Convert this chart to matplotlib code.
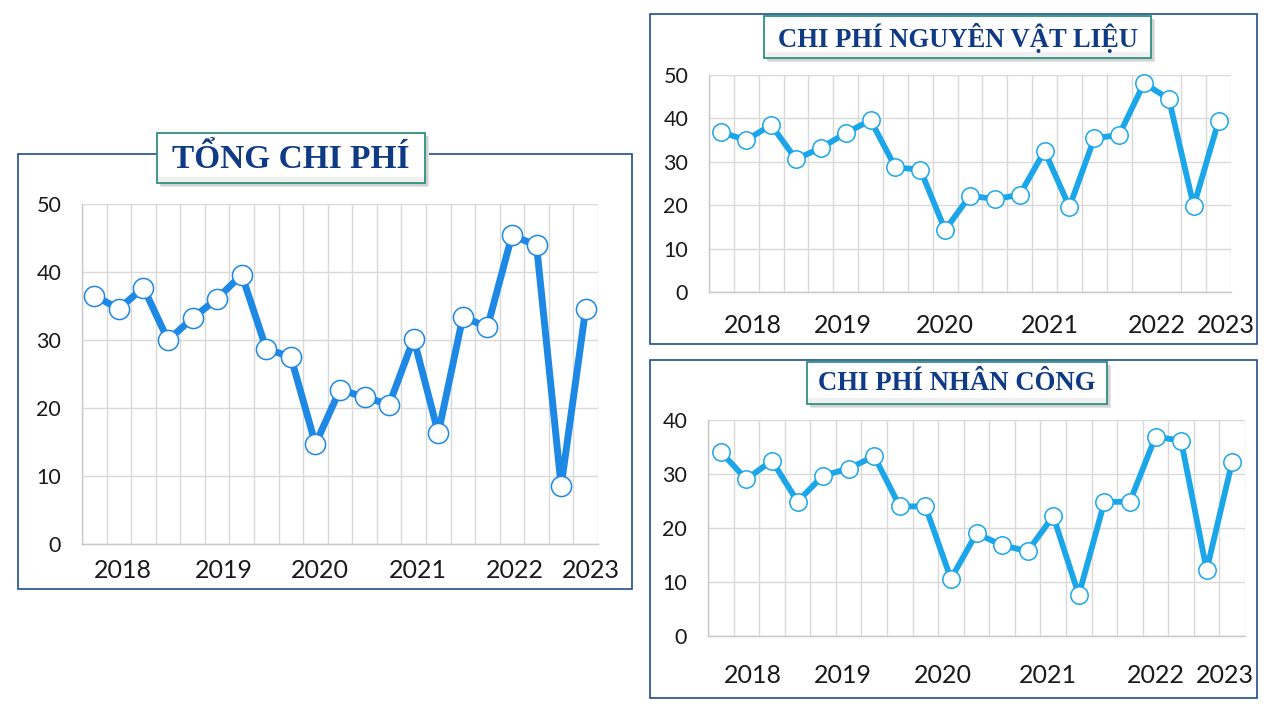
import matplotlib
matplotlib.use("Agg")
import matplotlib.pyplot as plt
from matplotlib.patches import Rectangle
import numpy as np

# ---------------- data ----------------
years = ["2018", "2019", "2020", "2021", "2022", "2023"]

tong_chi_phi = [36.5, 34.6, 37.7, 30.0, 33.2, 36.1, 39.6, 28.7, 27.5, 14.7,
                22.7, 21.6, 20.5, 30.2, 16.3, 33.4, 31.9, 45.4, 43.9, 8.5, 34.6]
nguyen_vat_lieu = [36.8, 35.0, 38.5, 30.6, 33.2, 36.6, 39.6, 28.7, 28.2, 14.3,
                   22.2, 21.4, 22.4, 32.5, 19.6, 35.4, 36.2, 48.1, 44.5, 19.8, 39.4]
nhan_cong = [34.1, 29.0, 32.5, 24.9, 29.7, 31.0, 33.3, 24.0, 24.0, 10.6,
             19.0, 16.8, 15.7, 22.2, 7.6, 24.8, 24.9, 36.9, 36.2, 12.2, 32.3]

titles = ["TỔNG CHI PHÍ", "CHI PHÍ NGUYÊN VẬT LIỆU", "CHI PHÍ NHÂN CÔNG"]

W, H = 1280, 720
fig = plt.figure(figsize=(12.8, 7.2), dpi=100)
fig.patch.set_facecolor("white")

FRAME = "#1F4E8C"
TITLE_C = "#0F3A85"
TEAL = "#2E8F80"
GRID = "#D9D9D9"
TICKFONT = ["Lato", "DejaVu Sans"]


def fx(x):
    return x / W


def fy(y):
    return 1 - y / H


def frame(x0, y0, x1, y1):
    fig.patches.append(Rectangle((fx(x0), fy(y1)), fx(x1) - fx(x0), fy(y0) - fy(y1),
                                 transform=fig.transFigure, fill=False,
                                 edgecolor=FRAME, linewidth=1.2, zorder=1))


def title_box(x0, y0, x1, y1, text, size):
    # soft shadow
    for off, c in [(4, "#E4E4E4"), (3, "#D2D2D2")]:
        fig.patches.append(Rectangle((fx(x0 + off), fy(y1 + off)), fx(x1) - fx(x0), fy(y0) - fy(y1),
                                     transform=fig.transFigure, facecolor=c,
                                     edgecolor="none", zorder=3))
    fig.patches.append(Rectangle((fx(x0), fy(y1)), fx(x1) - fx(x0), fy(y0) - fy(y1),
                                 transform=fig.transFigure, facecolor="white",
                                 edgecolor=TEAL, linewidth=1.3, zorder=4))
    # slight gradient at bottom of the box
    fig.patches.append(Rectangle((fx(x0 + 1), fy(y1 - 1)), fx(x1 - 1) - fx(x0 + 1), fy(y1 - 6) - fy(y1 - 1),
                                 transform=fig.transFigure, facecolor="#F0F0F0",
                                 edgecolor="none", zorder=4.5))
    fig.text(fx((x0 + x1) / 2), fy((y0 + y1) / 2 + 1), text, ha="center", va="center",
             fontsize=size, fontweight="bold", color=TITLE_C,
             family=["Liberation Serif", "DejaVu Serif"], zorder=5)


def chart(x0, y0, x1, y1, values, ymax, color, lw, ms, label_pos, label_pad):
    ax = fig.add_axes([fx(x0), fy(y1), fx(x1) - fx(x0), fy(y0) - fy(y1)])
    ax.set_zorder(2)
    n = len(values)
    x = np.arange(n)
    ax.plot(x, values, color=color, linewidth=lw, solid_capstyle="butt", zorder=3,
            marker="o", markersize=ms, markerfacecolor="white",
            markeredgecolor=color, markeredgewidth=1.1, clip_on=False)
    ax.set_xlim(-0.5, n - 0.5)
    ax.set_ylim(0, ymax)
    ax.set_yticks(np.arange(0, ymax + 1, 10))
    ax.set_xticks(np.arange(-0.5, n, 1.0), minor=True)
    ax.set_xticks(label_pos)
    ax.set_xticklabels(years, fontsize=18, family=TICKFONT, color="#1A1A1A")
    for lab in ax.get_yticklabels():
        lab.set_fontsize(15.5)
        lab.set_family(TICKFONT)
        lab.set_color("#1A1A1A")
    ax.tick_params(axis="x", which="both", length=0, pad=label_pad)
    ax.tick_params(axis="y", length=0, pad=15)
    ax.grid(True, axis="y", color=GRID, linewidth=1)
    ax.grid(True, axis="x", which="minor", color=GRID, linewidth=1)
    ax.grid(False, axis="x", which="major")
    ax.set_axisbelow(True)
    for s in ["top", "right"]:
        ax.spines[s].set_visible(False)
    for s in ["left", "bottom"]:
        ax.spines[s].set_color("#C8C8C8")
        ax.spines[s].set_linewidth(1)
    ax.set_facecolor("none")
    return ax


# panels
frame(18, 154, 632, 589)
frame(650, 14, 1257, 344)
frame(650, 360, 1257, 698)

chart(82, 204, 598, 544, tong_chi_phi, 50, "#1E88E5", 5.0, 14.5,
      [1.18, 5.26, 9.18, 13.18, 17.1, 20.22], 10.5)
chart(709, 75, 1231, 292, nguyen_vat_lieu, 50, "#1BA6EA", 4.2, 12.5,
      [1.26, 4.87, 9.0, 13.2, 17.5, 20.3], 16)
chart(708, 420, 1245, 636, nhan_cong, 40, "#1BA6EA", 4.2, 12.5,
      [1.24, 4.78, 8.69, 12.8, 17.0, 19.7], 20)

title_box(157, 133, 425, 183, titles[0], 24)
title_box(764, 16, 1151, 58, titles[1], 19.2)
title_box(807, 362, 1107, 404, titles[2], 19.3)

fig.savefig("out.png", dpi=100, facecolor="white")
